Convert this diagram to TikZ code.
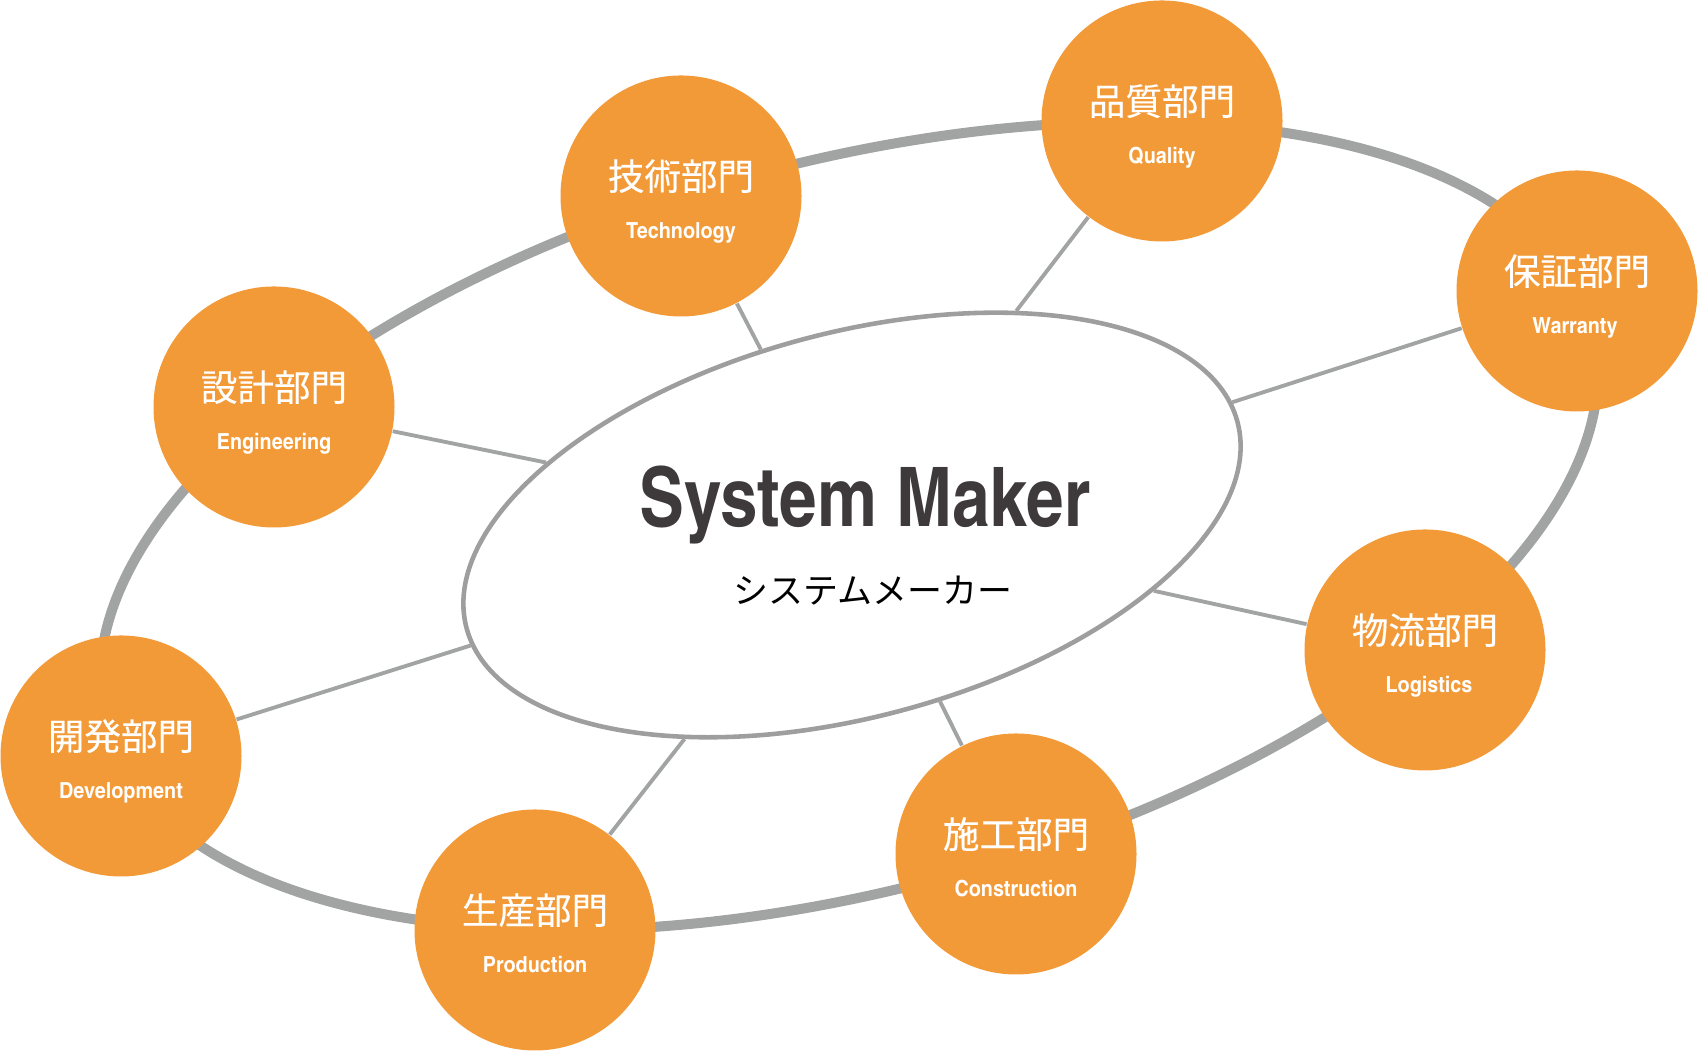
\documentclass[tikz,border=0pt]{standalone}
\usepackage{fontspec}
\setmainfont{TeX Gyre Heros}
\newfontfamily\cnfont{TeX Gyre Heros Cn}
\newfontfamily\cnwidefont[FakeStretch=1.09]{TeX Gyre Heros Cn}
\newfontfamily\jpfont{Noto Sans CJK JP}
\newfontfamily\jpdeptfont[FakeBold=0.3]{Noto Sans CJK JP}
\definecolor{deptorange}{RGB}{243,154,56}
\definecolor{ringgray}{RGB}{162,164,163}
\definecolor{coregray}{RGB}{158,158,158}
\definecolor{makertext}{RGB}{62,57,58}
\usetikzlibrary{positioning,shapes.geometric}

\tikzset{
  dept/.style={circle, fill=deptorange, minimum size=2.41cm, inner sep=0pt},
  deptjp/.style={anchor=base, text=white, inner sep=0pt, font=\jpdeptfont\fontsize{10.4}{12}\selectfont},
  depten/.style={anchor=base, text=white, inner sep=0pt, font=\cnwidefont\bfseries\fontsize{6.3}{7}\selectfont},
  spoke/.style={draw=ringgray, line width=1.1pt},
}

\begin{document}
\begin{tikzpicture}
  \useasboundingbox (0,0) rectangle (17,10.52);

  % Outer ring
  \draw[ringgray, line width=2.85pt, rotate around={15:(8.49,5.26)}] (8.49,5.26) ellipse [x radius=7.69, y radius=3.64];

  % Core ellipse
  \node[ellipse, draw=coregray, line width=1.3pt, fill=white, minimum width=7.98cm, minimum height=3.84cm, inner sep=0pt, rotate=15] (maker) at (8.52,5.27) {};
  \node[font=\cnfont\bfseries\fontsize{23.4}{26}\selectfont, text=makertext, anchor=base] (title) at (8.65,5.25) {System Maker};
  \node[font=\jpfont\fontsize{9.95}{12}\selectfont, anchor=base] (subtitle) at (8.73,4.48) {システムメーカー};

  % Technology
  \node[dept] (tech) at (6.81,8.56) {};
  \node[deptjp] (tech-jp) at (6.81,8.62) {技術部門};
  \node[depten] (tech-en) at (6.81,8.13) {Technology};

  % Quality
  \node[dept] (qual) at (11.62,9.31) {};
  \node[deptjp] (qual-jp) at (11.62,9.37) {品質部門};
  \node[depten] (qual-en) at (11.62,8.88) {Quality};

  % Warranty
  \node[dept] (warr) at (15.77,7.61) {};
  \node[deptjp] (warr-jp) at (15.77,7.67) {保証部門};
  \node[depten] (warr-en) at (15.75,7.18) {Warranty};

  % Logistics
  \node[dept] (logi) at (14.25,4.02) {};
  \node[deptjp] (logi-jp) at (14.25,4.08) {物流部門};
  \node[depten] (logi-en) at (14.29,3.59) {Logistics};

  % Construction
  \node[dept] (cons) at (10.16,1.98) {};
  \node[deptjp] (cons-jp) at (10.16,2.04) {施工部門};
  \node[depten] (cons-en) at (10.16,1.55) {Construction};

  % Production
  \node[dept] (prod) at (5.35,1.22) {};
  \node[deptjp] (prod-jp) at (5.35,1.28) {生産部門};
  \node[depten] (prod-en) at (5.35,0.79) {Production};

  % Development
  \node[dept] (devl) at (1.21,2.96) {};
  \node[deptjp] (devl-jp) at (1.21,3.02) {開発部門};
  \node[depten] (devl-en) at (1.21,2.53) {Development};

  % Engineering
  \node[dept] (engr) at (2.74,6.45) {};
  \node[deptjp] (engr-jp) at (2.74,6.51) {設計部門};
  \node[depten] (engr-en) at (2.74,6.02) {Engineering};

  % Spokes
  \draw[spoke] (maker) -- (tech);
  \draw[spoke] (maker) -- (qual);
  \draw[spoke] (maker) -- (warr);
  \draw[spoke] (maker) -- (logi);
  \draw[spoke] (maker) -- (cons);
  \draw[spoke] (maker) -- (prod);
  \draw[spoke] (maker) -- (devl);
  \draw[spoke] (maker) -- (engr);
\end{tikzpicture}
\end{document}
